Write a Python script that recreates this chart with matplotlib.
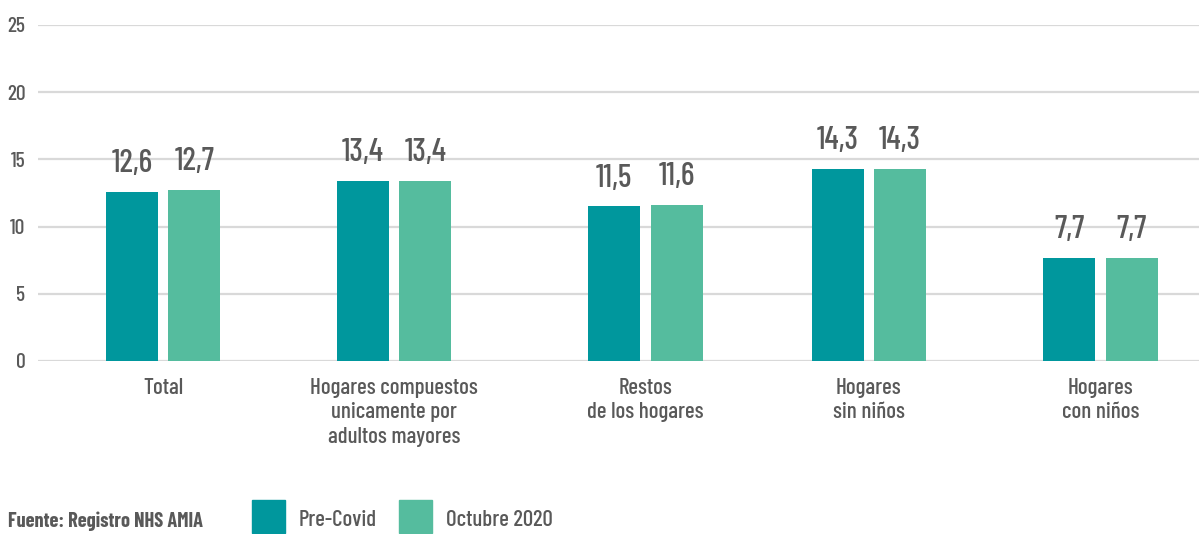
import matplotlib
matplotlib.use("Agg")
import matplotlib.pyplot as plt
from matplotlib.patches import Rectangle
import numpy as np

categories = [
    "Total",
    "Hogares compuestos\nunicamente por\nadultos mayores",
    "Restos\nde los hogares",
    "Hogares\nsin niños",
    "Hogares\ncon niños",
]
pre_covid = [12.6, 13.4, 11.5, 14.3, 7.7]
octubre_2020 = [12.7, 13.4, 11.6, 14.3, 7.7]
series_names = ["Pre-Covid", "Octubre 2020"]
y_ticks = [0, 5, 10, 15, 20, 25]
source_text = "Fuente: Registro NHS AMIA"

# layout: group centres (slightly uneven spacing as in the original)
group_pos = [0.0, 0.986, 2.058, 3.011, 4.0]

FONT = ["Barlow Condensed", "DejaVu Sans"]
plt.rcParams["font.family"] = FONT
plt.rcParams["font.weight"] = 500
TEXT = "#595959"
C_PRE = "#00979D"
C_OCT = "#55BC9E"
GRID = "#d9d9d9"

W, H = 1199, 534
fig = plt.figure(figsize=(W / 100, H / 100), dpi=100)
ax = fig.add_axes([38 / W, 1 - 361 / H, 1 - 38 / W, (361 - 25) / H])

x = np.array(group_pos)
bw = 0.222
off = 0.133
b1 = ax.bar(x - off, pre_covid, bw, color=C_PRE, zorder=3)
b2 = ax.bar(x + off, octubre_2020, bw, color=C_OCT, zorder=3)

for bars, vals in ((b1, pre_covid), (b2, octubre_2020)):
    for r, v in zip(bars, vals):
        ax.annotate(f"{v:.1f}".replace(".", ","),
                    (r.get_x() + r.get_width() / 2, v),
                    xytext=(0, 10), textcoords="offset points",
                    ha="center", va="bottom", fontsize=23, color=TEXT)

ax.set_ylim(0, 25)
ax.set_xlim(-0.534, 4.42)
ax.set_yticks(y_ticks)
ax.set_yticklabels([str(t) for t in y_ticks])
ax.yaxis.grid(True, color=GRID, linewidth=1.6, zorder=0)
ax.set_axisbelow(True)
for s in ax.spines.values():
    s.set_visible(False)
ax.tick_params(axis="y", length=0, pad=9, labelsize=15.5, labelcolor=TEXT)
ax.tick_params(axis="x", length=0, pad=12, labelsize=16.5, labelcolor=TEXT)
ax.set_xticks(x)
ax.set_xticklabels(categories, linespacing=1.3)
for t in ax.get_yticklabels():
    t.set_horizontalalignment("right")

# Footer: source and legend
fig.text(8 / W, 1 - 521 / H, source_text, fontsize=14.7, fontweight="bold",
         color=TEXT, ha="left", va="center")
for xs, col, name, xt in ((252, C_PRE, series_names[0], 299),
                          (399, C_OCT, series_names[1], 446)):
    fig.add_artist(Rectangle((xs / W, 1 - 533 / H), 33 / W, 33 / H,
                             transform=fig.transFigure, color=col))
    fig.text(xt / W, 1 - 520 / H, name, fontsize=16.5, color=TEXT,
             ha="left", va="center")

fig.savefig("out.png", dpi=100)
